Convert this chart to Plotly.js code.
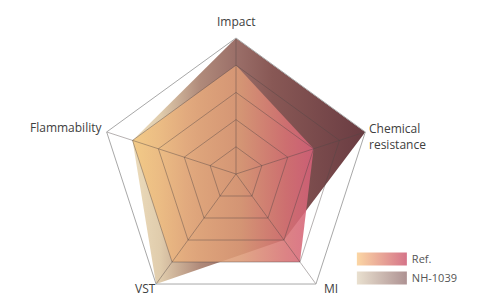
<!DOCTYPE html>
<html>
<head>
<meta charset="utf-8">
<script src="https://cdn.plot.ly/plotly-3.0.1.min.js"></script>
<style>html,body{margin:0;padding:0;overflow:hidden;background:#fff}</style>
</head>
<body>
<div id="chart" style="width:493px;height:320px"></div>
<script>
// ---- data ----
const categories = ['Impact', 'Chemical<br>resistance', 'MI', 'VST', 'Flammability'];
const seriesNames = ['Ref.', 'NH-1039'];
const refValues = [4, 3, 4, 4, 4];
const nhValues = [5, 5, 3, 5, 4];
const radialTicks = [1, 2, 3, 4, 5];

// ---- styles ----
const refStops = [[0, '#f3c880'], [0.3, '#e6ab7c'], [0.6, '#dc9a76'], [0.85, '#d77274'], [1, '#d6607a']];
const nhStops = [[0, '#ecdcbc'], [0.12, '#e0ccac'], [0.29, '#b08a7a'], [0.45, '#9a6e68'], [0.6, '#885855'], [1, '#6a3c42']];
const refLegendStops = [[0, '#fbd6a4'], [1, '#d57489']];
const nhLegendStops = [[0, '#e9e0cf'], [1, '#ae9293']];
const gridColor = 'rgba(80,70,70,0.42)';
const labelFont = {family: 'Open Sans', size: 12, color: '#404040'};

// plot area in pixels (from margins below)
const M = {l: 100, r: 121, t: 37.6, b: 10.4};
const W = 493, H = 320;
const PW = W - M.l - M.r, PH = H - M.t - M.b;
const px = x => (x - M.l) / PW;
const py = y => (H - M.b - y) / PH;

// axis-label placements (pixel anchor, anchors)
const labelPlace = [
  {x: 236, y: 20.9, xa: 'center', al: 'center', pad: 1},
  {x: 366.5, y: 135.6, xa: 'left', al: 'left', pad: 1},
  {x: 331, y: 287.7, xa: 'center', al: 'center', pad: 0},
  {x: 145, y: 287.7, xa: 'center', al: 'center', pad: 0},
  {x: 103.5, y: 126.9, xa: 'right', al: 'right', pad: 1}
];

const gd = document.getElementById('chart');

const data = [
  {
    type: 'scatterpolar', name: seriesNames[1], r: nhValues, theta: categories,
    fill: 'toself', mode: 'lines', line: {width: 0, color: 'rgba(0,0,0,0)'},
    fillcolor: '#9a6e68', hoverinfo: 'skip'
  },
  {
    type: 'scatterpolar', name: seriesNames[0], r: refValues, theta: categories,
    fill: 'toself', mode: 'lines', line: {width: 0, color: 'rgba(0,0,0,0)'},
    fillcolor: 'rgba(220,150,120,0.88)', hoverinfo: 'skip'
  }
];

const annotations = categories.map((c, i) => ({
  text: c, xref: 'paper', yref: 'paper',
  x: px(labelPlace[i].x), y: py(labelPlace[i].y),
  xanchor: labelPlace[i].xa, yanchor: 'middle', align: labelPlace[i].al,
  borderpad: labelPlace[i].pad,
  showarrow: false, font: labelFont
}));

const layout = {
  width: W, height: H,
  margin: M,
  paper_bgcolor: '#ffffff',
  showlegend: true,
  annotations: annotations,
  legend: {
    x: 0.926, y: 0.241, xanchor: 'left', yanchor: 'top',
    traceorder: 'reversed', itemwidth: 50,
    font: {family: 'Open Sans', size: 11, color: '#555555'},
    bgcolor: 'rgba(0,0,0,0)'
  },
  polar: {
    gridshape: 'linear', bgcolor: 'rgba(0,0,0,0)',
    domain: {x: [0, 1], y: [0, 1]},
    radialaxis: {
      range: [0, 5], tickvals: radialTicks, showticklabels: false, ticks: '',
      showline: false, gridcolor: gridColor, gridwidth: 1
    },
    angularaxis: {
      type: 'category', categoryarray: categories, rotation: 90, direction: 'clockwise',
      showline: true, linecolor: '#a8a8a8', linewidth: 1, gridcolor: gridColor,
      ticks: '', showticklabels: false
    }
  }
};

const svgNS = 'http://www.w3.org/2000/svg';
function makeGrad(defs, id, stops, opacity) {
  const g = document.createElementNS(svgNS, 'linearGradient');
  g.setAttribute('id', id);
  g.setAttribute('x1', '0'); g.setAttribute('y1', '0');
  g.setAttribute('x2', '1'); g.setAttribute('y2', '0');
  stops.forEach(s => {
    const st = document.createElementNS(svgNS, 'stop');
    st.setAttribute('offset', s[0]);
    st.setAttribute('stop-color', s[1]);
    st.setAttribute('stop-opacity', opacity);
    g.appendChild(st);
  });
  defs.appendChild(g);
}

function restyle() {
  const svg = gd.querySelector('svg.main-svg');
  let defs = svg.querySelector('defs');
  if (!defs) { defs = document.createElementNS(svgNS, 'defs'); svg.insertBefore(defs, svg.firstChild); }
  makeGrad(defs, 'gNH', nhStops, 1);
  makeGrad(defs, 'gRef', refStops, 1);
  makeGrad(defs, 'gNHleg', nhLegendStops, 1);
  makeGrad(defs, 'gRefleg', refLegendStops, 1);

  const polar = gd.querySelector('.polarlayer');
  const front = polar.querySelector('.frontplot');
  ['.radial-grid', '.angular-grid'].forEach(sel => {
    const g = polar.querySelector(sel);
    if (g && front) front.parentNode.insertBefore(g, front.nextSibling);
  });

  const traces = front.querySelectorAll('.trace');
  const ids = ['gNH', 'gRef'];
  const ops = [1, 0.88];
  traces.forEach((t, i) => {
    const p = t.querySelector('path.js-fill');
    if (p) { p.style.fill = 'url(#' + ids[i] + ')'; p.style.fillOpacity = ops[i]; }
  });

  gd.querySelectorAll('.legend .traces').forEach(item => {
    const txt = item.querySelector('.legendtext').textContent;
    const id = txt === seriesNames[0] ? 'gRefleg' : 'gNHleg';
    const p = item.querySelector('.legendfill path');
    if (p) {
      p.setAttribute('d', 'M5,-6.5h50v13h-50z');
      p.style.fill = 'url(#' + id + ')';
      p.style.fillOpacity = 1;
    }
  });
}

Plotly.newPlot(gd, data, layout, {staticPlot: true, displayModeBar: false}).then(restyle);
</script>
</body>
</html>
